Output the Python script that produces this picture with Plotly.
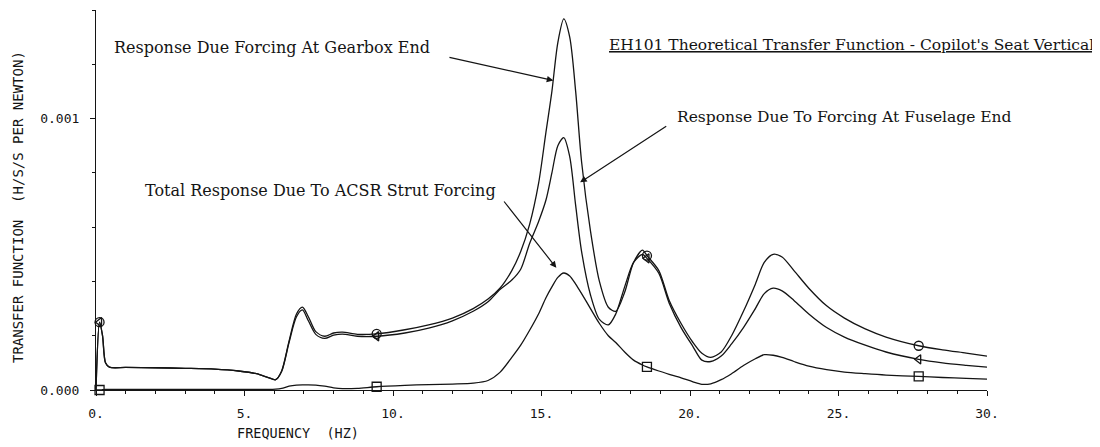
import plotly.graph_objects as go

# ---------------- data (values in H/S/S per Newton) ----------------
freq_hz = [0.0, 0.12, 0.22, 0.32, 0.45, 1.0, 2.0, 3.0, 4.0, 4.8, 5.4, 5.8, 6.05, 6.25, 6.5, 6.75, 6.95,
           7.15, 7.4, 7.7, 8.0, 8.3, 8.8, 9.45, 10.4, 11.2, 12.0, 12.7, 13.2, 13.6, 14.0, 14.3, 14.6,
           14.9, 15.15, 15.35, 15.55, 15.75, 15.95, 16.15, 16.35, 16.65, 16.95, 17.25, 17.5, 17.8, 18.1,
           18.4, 18.55, 18.95, 19.3, 19.7, 20.1, 20.4, 20.7, 21.05, 21.4, 21.8, 22.2, 22.5, 22.8, 23.1,
           23.5, 24.0, 24.6, 25.2, 25.9, 26.6, 27.7, 28.5, 29.3, 30.0]

gearbox_end = [0.0, 0.25e-3, 0.2e-3, 0.1e-3, 0.084e-3, 0.083e-3, 0.082e-3, 0.08e-3, 0.077e-3, 0.07e-3,
               0.06e-3, 0.046e-3, 0.038e-3, 0.07e-3, 0.18e-3, 0.28e-3, 0.305e-3, 0.27e-3, 0.215e-3,
               0.198e-3, 0.21e-3, 0.213e-3, 0.205e-3, 0.207e-3, 0.222e-3, 0.24e-3, 0.265e-3, 0.3e-3,
               0.335e-3, 0.375e-3, 0.44e-3, 0.51e-3, 0.61e-3, 0.76e-3, 0.95e-3, 1.1e-3, 1.28e-3,
               1.367e-3, 1.30e-3, 1.10e-3, 0.84e-3, 0.585e-3, 0.40e-3, 0.305e-3, 0.29e-3, 0.36e-3,
               0.47e-3, 0.515e-3, 0.495e-3, 0.44e-3, 0.33e-3, 0.245e-3, 0.175e-3, 0.135e-3, 0.12e-3,
               0.14e-3, 0.2e-3, 0.29e-3, 0.39e-3, 0.47e-3, 0.50e-3, 0.49e-3, 0.44e-3, 0.375e-3,
               0.31e-3, 0.265e-3, 0.225e-3, 0.195e-3, 0.163e-3, 0.148e-3, 0.136e-3, 0.125e-3]

fuselage_end = [0.0, 0.25e-3, 0.2e-3, 0.1e-3, 0.084e-3, 0.083e-3, 0.082e-3, 0.08e-3, 0.077e-3, 0.07e-3,
                0.06e-3, 0.046e-3, 0.038e-3, 0.068e-3, 0.175e-3, 0.27e-3, 0.295e-3, 0.255e-3, 0.205e-3,
                0.19e-3, 0.202e-3, 0.206e-3, 0.198e-3, 0.198e-3, 0.21e-3, 0.228e-3, 0.255e-3, 0.29e-3,
                0.325e-3, 0.37e-3, 0.405e-3, 0.445e-3, 0.54e-3, 0.62e-3, 0.70e-3, 0.80e-3, 0.90e-3,
                0.93e-3, 0.86e-3, 0.68e-3, 0.51e-3, 0.35e-3, 0.26e-3, 0.24e-3, 0.28e-3, 0.38e-3,
                0.47e-3, 0.50e-3, 0.485e-3, 0.43e-3, 0.32e-3, 0.23e-3, 0.16e-3, 0.11e-3, 0.105e-3,
                0.125e-3, 0.17e-3, 0.23e-3, 0.30e-3, 0.355e-3, 0.375e-3, 0.365e-3, 0.33e-3, 0.28e-3,
                0.23e-3, 0.195e-3, 0.165e-3, 0.14e-3, 0.113e-3, 0.1e-3, 0.091e-3, 0.084e-3]

total_acsr = [0.0, 0.0, 0.001e-3, 0.002e-3, 0.002e-3, 0.002e-3, 0.002e-3, 0.002e-3, 0.002e-3, 0.002e-3,
              0.002e-3, 0.002e-3, 0.003e-3, 0.006e-3, 0.014e-3, 0.018e-3, 0.019e-3, 0.019e-3, 0.018e-3,
              0.014e-3, 0.008e-3, 0.005e-3, 0.006e-3, 0.012e-3, 0.017e-3, 0.02e-3, 0.022e-3, 0.025e-3,
              0.035e-3, 0.065e-3, 0.12e-3, 0.165e-3, 0.22e-3, 0.28e-3, 0.34e-3, 0.38e-3, 0.415e-3,
              0.431e-3, 0.42e-3, 0.39e-3, 0.355e-3, 0.30e-3, 0.245e-3, 0.20e-3, 0.175e-3, 0.14e-3,
              0.11e-3, 0.092e-3, 0.085e-3, 0.07e-3, 0.058e-3, 0.045e-3, 0.03e-3, 0.021e-3, 0.023e-3,
              0.038e-3, 0.06e-3, 0.09e-3, 0.115e-3, 0.13e-3, 0.128e-3, 0.12e-3, 0.105e-3, 0.088e-3,
              0.075e-3, 0.066e-3, 0.06e-3, 0.055e-3, 0.05e-3, 0.046e-3, 0.043e-3, 0.04e-3]

marker_freqs = [0.12, 9.45, 18.55, 27.7]

x_tick_vals = [0, 5, 10, 15, 20, 25, 30]
x_tick_text = ["0.", "5.", "10.", "15.", "20.", "25.", "30."]
y_tick_vals = [0.0, 0.001]
y_tick_text = ["0.000", "0.001"]

title_text = "EH101 Theoretical Transfer Function - Copilot's Seat Vertical"
label_gearbox = "Response Due Forcing At Gearbox End"
label_fuselage = "Response Due To Forcing At Fuselage End"
label_total = "Total Response Due To ACSR Strut Forcing"
x_title = "FREQUENCY  (HZ)"
y_title = "TRANSFER FUNCTION  (H/S/S PER NEWTON)"

# arrows: (tail, head) in data coordinates
arrow_gearbox = ((11.85, 1.227e-3), (15.4, 1.14e-3))
arrow_fuselage = ((19.25, 0.975e-3), (16.3, 0.765e-3))
arrow_total = ((13.7, 0.70e-3), (15.5, 0.45e-3))

# ---------------- figure ----------------
INK = "#141414"
MONO = "DejaVu Sans Mono"
SERIF = "DejaVu Serif"

fig = go.Figure()

series = [
    (gearbox_end, "circle-open", 9),
    (fuselage_end, "triangle-left-open", 8),
    (total_acsr, "square-open", 9),
]
marker_idx = [freq_hz.index(f) for f in marker_freqs]

for values, symbol, size in series:
    fig.add_trace(go.Scatter(
        x=freq_hz, y=values, mode="lines",
        line=dict(color=INK, width=1.3, shape="spline", smoothing=0.8),
        hoverinfo="skip", showlegend=False,
    ))
    fig.add_trace(go.Scatter(
        x=[freq_hz[i] for i in marker_idx], y=[values[i] for i in marker_idx],
        mode="markers", cliponaxis=False,
        marker=dict(symbol=symbol, size=size, color=INK, line=dict(width=1.3, color=INK)),
        hoverinfo="skip", showlegend=False,
    ))

SERIF_SIZE = 16
fig.add_annotation(xref="paper", yref="paper", x=1.1223, y=0.908, xanchor="right", yanchor="middle",
                   text="<u>" + title_text + "</u>", showarrow=False,
                   font=dict(family=SERIF, size=15.5, color=INK))
fig.add_annotation(xref="paper", yref="paper", x=0.018, y=0.9026, xanchor="left", yanchor="middle",
                   text=label_gearbox, showarrow=False, font=dict(family=SERIF, size=SERIF_SIZE, color=INK))
fig.add_annotation(xref="paper", yref="paper", x=0.6498, y=0.7184, xanchor="left", yanchor="middle",
                   text=label_fuselage, showarrow=False, font=dict(family=SERIF, size=15.5, color=INK))
fig.add_annotation(xref="paper", yref="paper", x=0.0527, y=0.5263, xanchor="left", yanchor="middle",
                   text=label_total, showarrow=False, font=dict(family=SERIF, size=SERIF_SIZE, color=INK))

for (tx, ty), (hx, hy) in [arrow_gearbox, arrow_fuselage, arrow_total]:
    fig.add_annotation(x=hx, y=hy, ax=tx, ay=ty, xref="x", yref="y", axref="x", ayref="y",
                       text="", showarrow=True, arrowhead=2, arrowsize=1.1, arrowwidth=1.2,
                       arrowcolor=INK)

fig.add_annotation(xref="paper", yref="paper", x=0.2267, y=-0.113, xanchor="center", yanchor="middle",
                   text=x_title, showarrow=False, font=dict(family=MONO, size=13.5, color=INK))
fig.add_annotation(xref="paper", yref="paper", x=-0.0875, y=0.4816, xanchor="center", yanchor="middle",
                   text=y_title, textangle=-90, showarrow=False, font=dict(family=MONO, size=14, color=INK))

fig.update_xaxes(range=[0, 30], showline=True, linecolor=INK, linewidth=1.2, showgrid=False,
                 zeroline=False, tickmode="array", tickvals=x_tick_vals, ticktext=x_tick_text,
                 ticks="outside", ticklen=5, tickcolor=INK, tickwidth=1.2, ticklabelstandoff=6,
                 tickfont=dict(family=MONO, size=13, color=INK),
                 minor=dict(dtick=1, ticks="outside", ticklen=3, tickcolor=INK, tickwidth=1))
fig.update_yaxes(range=[0, 0.0014], showline=True, linecolor=INK, linewidth=1.2, showgrid=False,
                 zeroline=False, tickmode="array", tickvals=y_tick_vals, ticktext=y_tick_text,
                 ticks="outside", ticklen=5, tickcolor=INK, tickwidth=1.2, ticklabelstandoff=8,
                 tickfont=dict(family=MONO, size=13, color=INK),
                 minor=dict(dtick=0.0002, tick0=0, ticks="outside", ticklen=3, tickcolor=INK, tickwidth=1))

# page body adds an 8px offset, so the figure is sized to fit the 1100x447 window
fig.update_layout(width=1092, height=439, margin=dict(l=88, r=113, t=2, b=57),
                  paper_bgcolor="white", plot_bgcolor="white", showlegend=False)

fig.write_html("out.html")
